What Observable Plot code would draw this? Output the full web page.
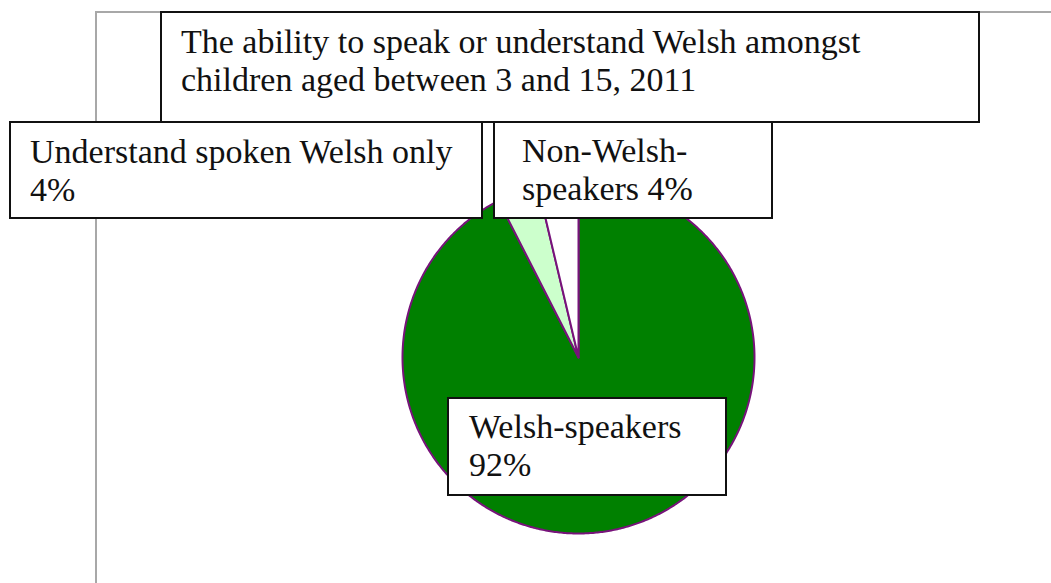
<!DOCTYPE html>
<html>
<head>
<meta charset="utf-8">
<script src="https://cdn.jsdelivr.net/npm/d3@7"></script>
<script src="https://cdn.jsdelivr.net/npm/@observablehq/plot@0.6"></script>
<style>
  html, body { margin: 0; padding: 0; background: #fff; }
  #wrap { position: relative; width: 1051px; height: 583px; overflow: hidden; background: #fff; }
  #chart { position: absolute; left: 0; top: 0; }
  #chart svg { background: transparent; }
  .frame { position: absolute; left: 95px; top: 11px; width: 2000px; height: 2000px;
           border-left: 2px solid #a8a8a8; border-top: 2px solid #a8a8a8; box-sizing: border-box; }
  .box { position: absolute; box-sizing: border-box; background: #fff; border: 2px solid #111;
         font-family: "Liberation Serif", serif; font-size: 34px; line-height: 37.5px;
         color: #111; white-space: nowrap; }
</style>
</head>
<body>
<div id="wrap">
  <div class="frame"></div>
  <div id="chart"></div>
</div>
<script>
// ---- data ----
const categories = ["Welsh-speakers", "Understand spoken Welsh only", "Non-Welsh-speakers"];
const values = [92.5, 3.8, 3.7];
const labelLines = [["Welsh-speakers", "92%"], ["Understand spoken Welsh only", "4%"], ["Non-Welsh-", "speakers 4%"]];
const colors = ["#008000", "#ccffcc", "#ffffff"];
const titleLines = ["The ability to speak or understand Welsh amongst", "children aged between 3 and 15, 2011"];

// ---- pie geometry from data ----
const arcs = d3.pie().sort(null).startAngle(0).endAngle(2 * Math.PI)(values);
function slicePoints(a0, a1, name) {
  const pts = [{name, x: 0, y: 0}];
  const n = Math.max(2, Math.ceil((a1 - a0) / (Math.PI / 360)));
  for (let i = 0; i <= n; i++) {
    const a = a0 + (a1 - a0) * i / n;
    pts.push({name, x: Math.sin(a), y: Math.cos(a)});
  }
  pts.push({name, x: 0, y: 0});
  return pts;
}
const slices = arcs.map((a, i) => slicePoints(a.startAngle, a.endAngle, categories[i]));
const circle = slicePoints(0, 2 * Math.PI, "all").slice(1, -1);

const cx = 578, cy = 357, r = 176;
const plot = Plot.plot({
  width: 1051,
  height: 583,
  margin: 0,
  x: {domain: [-1, 1], range: [cx - r, cx + r], axis: null},
  y: {domain: [-1, 1], range: [cy + r, cy - r], axis: null},
  style: {background: "transparent"},
  marks: [
    Plot.line(circle, {x: "x", y: "y", fill: "#666", stroke: "#666", strokeWidth: 2, dx: 1.5, dy: 3.5, ariaLabel: "shadow"}),
    ...slices.map((pts, i) =>
      Plot.line(pts, {x: "x", y: "y", fill: colors[i], stroke: "#77137a", strokeWidth: 2, strokeLinejoin: "round", curve: "linear"})
    )
  ]
});
// soft blur for the shadow mark
const ns = "http://www.w3.org/2000/svg";
const defs = document.createElementNS(ns, "defs");
const filt = document.createElementNS(ns, "filter");
filt.setAttribute("id", "pieShadow");
filt.setAttribute("x", "-20%"); filt.setAttribute("y", "-20%");
filt.setAttribute("width", "140%"); filt.setAttribute("height", "140%");
const blur = document.createElementNS(ns, "feGaussianBlur");
blur.setAttribute("stdDeviation", "2.5");
filt.appendChild(blur);
defs.appendChild(filt);
plot.insertBefore(defs, plot.firstChild);
const marksG = Array.from(plot.children).filter(n => n.tagName.toLowerCase() === "g");
const sh = plot.querySelector('g[aria-label="shadow"]') || marksG[0];
if (sh) {
  sh.setAttribute("filter", "url(#pieShadow)");
  sh.setAttribute("opacity", "0.6");
}
document.getElementById("chart").appendChild(plot);

// ---- label boxes ----
const wrap = document.getElementById("wrap");
function box(lines, left, top, w, h, padL, padT) {
  const d = document.createElement("div");
  d.className = "box";
  Object.assign(d.style, {left: left + "px", top: top + "px", width: w + "px", height: h + "px",
    paddingLeft: padL + "px", paddingTop: padT + "px"});
  lines.forEach((t) => {
    const s = document.createElement("div");
    s.textContent = t;
    d.appendChild(s);
  });
  wrap.appendChild(d);
}
box(titleLines, 160, 11, 820, 112, 19, 10);
box(labelLines[1], 9, 121, 474, 98, 19, 10);
box(labelLines[2], 493, 121, 280, 98, 27, 9);
box(labelLines[0], 447, 397, 280, 99, 20, 9);
</script>
</body>
</html>
